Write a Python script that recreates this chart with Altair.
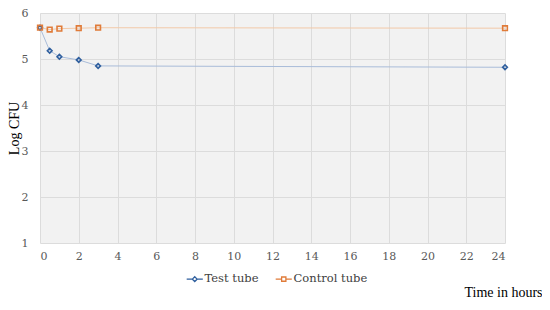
import altair as alt
import pandas as pd

hours = [0, 0.5, 1, 2, 3, 24]
test_tube = [5.68, 5.18, 5.05, 4.98, 4.85, 4.82]
control_tube = [5.68, 5.64, 5.66, 5.67, 5.68, 5.67]
series = ["Test tube", "Control tube"]
x_ticks = list(range(0, 25, 2))
y_ticks = [1, 2, 3, 4, 5, 6]

rows = []
for h, v in zip(hours, test_tube):
    rows.append({"t": h, "v": v, "s": "Test tube"})
for h, v in zip(hours, control_tube):
    rows.append({"t": h, "v": v, "s": "Control tube"})
df = pd.DataFrame(rows)

FONT = "Liberation Serif"
LFONT = "DejaVu Serif"
dark = ["#2F5F9E", "#E07B39"]
light = ["#A9BCD9", "#F2C9A8"]

x = alt.X("t:Q", scale=alt.Scale(domain=[0, 24], nice=False),
          axis=alt.Axis(values=x_ticks, title="Time in hours", titleAlign="right",
                        titleAnchor="end", titleX=502, titleY=53, titleBaseline="alphabetic",
                        titleFontWeight="normal", titleFontSize=14, titleColor="#000000",
                        labelPadding=7, labelFont=LFONT, labelFontSize=11))
y = alt.Y("v:Q", scale=alt.Scale(domain=[1, 6], nice=False),
          axis=alt.Axis(values=y_ticks, title="Log CFU", titleFontWeight="normal",
                        titleFontSize=14, titleColor="#000000", titleX=-26, titleY=115,
                        titleAngle=270, titleAlign="center", titleBaseline="middle",
                        labelPadding=12, labelFont=LFONT, labelFontSize=11))

base = alt.Chart(df)

lines = base.mark_line(strokeWidth=1).encode(
    x=x, y=y, detail="s:N",
    color=alt.Color("s:N", scale=alt.Scale(domain=series, range=light), legend=None),
)

pts = base.mark_point(filled=False, strokeWidth=1.6, size=22, opacity=1).encode(
    x=x, y=y,
    color=alt.Color("s:N", scale=alt.Scale(domain=series, range=dark), legend=None),
    shape=alt.Shape("s:N", scale=alt.Scale(domain=series, range=["diamond", "square"]), legend=None),
)

leg_paths = [
    "M-1.7,0H-0.5M0.5,0H1.7M0,-0.5L0.5,0L0,0.5L-0.5,0Z",
    "M-1.7,0H-0.45M0.45,0H1.7M-0.45,-0.45H0.45V0.45H-0.45Z",
]
legend_layer = base.transform_filter("datum.t < -100").mark_point(
    filled=False, strokeWidth=1.3, opacity=1
).encode(
    x=x, y=y,
    color=alt.Color("s:N", scale=alt.Scale(domain=series, range=dark),
                    legend=alt.Legend(title=None, orient="none", direction="horizontal",
                                      legendX=149, legendY=260, symbolSize=90,
                                      symbolStrokeWidth=1.3, labelFontSize=11.5,
                                      labelColor="#404040", labelFont=LFONT,
                                      columnPadding=14, symbolOffset=0)),
    shape=alt.Shape("s:N", scale=alt.Scale(domain=series, range=leg_paths),
                    legend=alt.Legend(title=None, orient="none", direction="horizontal",
                                      legendX=149, legendY=260, symbolSize=90,
                                      labelFont=LFONT)),
)

chart = alt.layer(lines, pts, legend_layer).resolve_scale(
    color="independent", shape="independent"
).properties(
    width=465, height=230,
    autosize=alt.AutoSizeParams(type="none"),
    padding={"left": 32, "top": 5, "right": 37, "bottom": 59},
    background="white",
).configure(
    font=FONT,
).configure_view(
    fill="#F2F2F2", stroke=None
).configure_axis(
    grid=True, gridColor="#DCDCDC", gridWidth=1, domain=False, ticks=False,
    titleFont=FONT, labelColor="#595959",
)

chart.save("out.html", embed_options={"renderer": "svg", "actions": False})
